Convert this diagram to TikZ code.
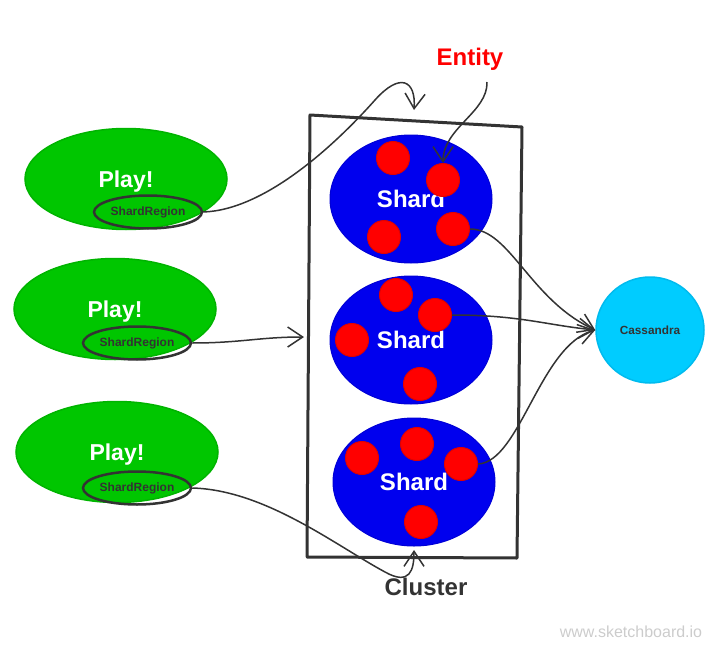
\documentclass[tikz,border=0pt]{standalone}
\usepackage{fontspec}
\setmainfont{Liberation Sans}
\usetikzlibrary{shapes.geometric,arrows.meta}

\definecolor{playgreen}{HTML}{00C600}
\definecolor{playedge}{HTML}{00B400}
\definecolor{shardblue}{HTML}{0000EE}
\definecolor{dotred}{HTML}{FF0000}
\definecolor{dotedge}{HTML}{E00000}
\definecolor{cassblue}{HTML}{00CCFF}
\definecolor{cassedge}{HTML}{00BBEE}
\definecolor{inkgray}{HTML}{333333}
\definecolor{markgray}{HTML}{CCCCCC}

\begin{document}
\begin{tikzpicture}[x=1pt,y=-1pt]
                \tikzset{playblob/.style={ellipse, fill=playgreen, draw=playedge, line width=1.5pt,
                minimum width=202pt, minimum height=101pt, inner sep=0pt, text depth=0pt,
                text=white, font=\bfseries\fontsize{23}{26}\selectfont},
                 regionring/.style={ellipse, draw=inkgray, line width=2.5pt,
                minimum width=108pt, minimum height=33pt, inner sep=0pt,
                text=inkgray, font=\bfseries\fontsize{12}{14}\selectfont},
                 shardblob/.style={ellipse, fill=shardblue, draw=shardblue!90!black, line width=1pt,
                minimum width=162pt, minimum height=128pt, inner sep=0pt, text depth=0pt,
                text=white, font=\bfseries\fontsize{24}{28}\selectfont},
                 entitydot/.style={circle, fill=dotred, draw=dotedge, line width=1pt,
                minimum size=33pt, inner sep=0pt},
                 conn/.style={draw=inkgray, line width=1.5pt,
                -{Straight Barb[length=15pt,width=20pt,line width=1.5pt]}}}

                \useasboundingbox (0,0) rectangle (718,653);

                % cluster frame
                \draw[inkgray, line width=3pt, line join=round] (310,115) -- (522,127) -- (517,558) -- (307,557) -- cycle;

                % play nodes
                \node[playblob] (play1) at (126,179) {Play!};
                \node[playblob] (play2) at (115,309) {Play!};
                \node[playblob] (play3) at (117,452) {Play!};

                \node[regionring] (region1) at (148,212) {ShardRegion};
                \node[regionring] (region2) at (137,343) {ShardRegion};
                \node[regionring] (region3) at (137,488) {ShardRegion};

                % shards
                \node[shardblob] (shard1) at (411,199) {Shard};
                \node[shardblob] (shard2) at (411,340) {Shard};
                \node[shardblob] (shard3) at (414,482) {Shard};

                \node[entitydot] (dot11) at (393,158) {};
                \node[entitydot] (dot12) at (443,180) {};
                \node[entitydot] (dot13) at (384,237) {};
                \node[entitydot] (dot14) at (453,229) {};

                \node[entitydot] (dot21) at (396,295) {};
                \node[entitydot] (dot22) at (435,315) {};
                \node[entitydot] (dot23) at (352,340) {};
                \node[entitydot] (dot24) at (420,384) {};

                \node[entitydot] (dot31) at (362,458) {};
                \node[entitydot] (dot32) at (417,444) {};
                \node[entitydot] (dot33) at (461,464) {};
                \node[entitydot] (dot34) at (421,522) {};

                % cassandra
                \node[ellipse, fill=cassblue, draw=cassedge, line width=1.5pt,
                minimum width=108pt, minimum height=106pt, inner sep=0pt,
                text=inkgray, font=\bfseries\fontsize{11.8}{14}\selectfont] (cass) at (650,330) {Cassandra};

                % labels
                \node[text=dotred, font=\bfseries\fontsize{24}{28}\selectfont] (entity) at (470,59) {Entity};
                \node[text=inkgray, font=\bfseries\fontsize{24}{28}\selectfont] (cluster) at (426,587) {Cluster};
                \node[text=markgray, font=\fontsize{16}{19}\selectfont] (mark) at (631,632) {www.sketchboard.io};

                \coordinate (toptip) at (414,110);
                \coordinate (sidetip) at (304,337);
                \coordinate (bottip) at (414,550);
                \coordinate (entitystart) at (487,82);

                % connectors
                \draw[conn] (region1.east) .. controls (265,210) and (335,145) .. (375,100)
                    .. controls (400,72) and (416,80) .. (toptip);
                \draw[conn] (region2.east) .. controls (240,343) and (260,337) .. (sidetip);
                \draw[conn] (region3.east) .. controls (265,490) and (335,545) .. (385,572)
                    .. controls (410,586) and (414,570) .. (bottip);
                \draw[conn] (entitystart) .. controls (488,112) and (443,128) .. (dot12.north);

                \draw[conn] (dot14.east) .. controls (510,229) and (530,300) .. (cass.west);
                \draw[conn] (dot22.east) .. controls (520,315) and (545,325) .. (cass.west);
                \draw[conn] (dot33.east) .. controls (520,462) and (540,345) .. (cass.west);
\end{tikzpicture}
\end{document}
